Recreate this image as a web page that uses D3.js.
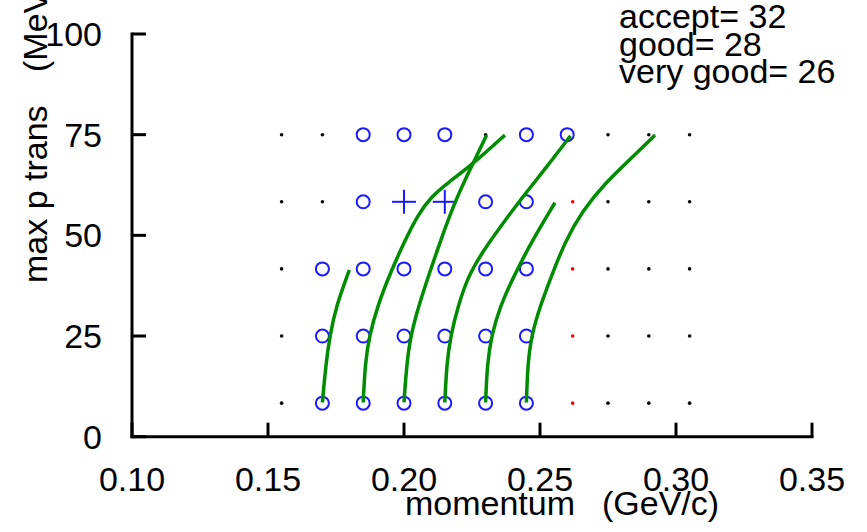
<!DOCTYPE html>
<html><head><meta charset="utf-8">
<script src="https://cdn.jsdelivr.net/npm/d3@7"></script>
<style>
html,body{margin:0;padding:0;background:#fff;}
svg{display:block;}
text{font-family:"Liberation Sans",Arial,sans-serif;fill:#000;}
</style></head>
<body>
<svg id="chart" width="867" height="532"></svg>
<script>
// ---- data ----
const xTicks = [0.10, 0.15, 0.20, 0.25, 0.30, 0.35];
const yTicks = [0, 25, 50, 75, 100];
const xTickLabels = ["0.10", "0.15", "0.20", "0.25", "0.30", "0.35"];
const yTickLabels = ["0", "25", "50", "75", "100"];

// grid markers [momentum, pt]
const blackDots = [
  [0.155, 8.33], [0.275, 8.33], [0.29, 8.33], [0.305, 8.33],
  [0.155, 25], [0.275, 25], [0.29, 25], [0.305, 25],
  [0.155, 41.67], [0.275, 41.67], [0.29, 41.67], [0.305, 41.67],
  [0.155, 58.33], [0.17, 58.33], [0.275, 58.33], [0.29, 58.33], [0.305, 58.33],
  [0.155, 75], [0.17, 75], [0.23, 75], [0.275, 75], [0.29, 75], [0.305, 75]
];
const redDots = [[0.262, 8.33], [0.262, 25], [0.262, 41.67], [0.262, 58.33]];
const circles = [
  [0.17, 8.33], [0.185, 8.33], [0.20, 8.33], [0.215, 8.33], [0.23, 8.33], [0.245, 8.33],
  [0.17, 25], [0.185, 25], [0.20, 25], [0.215, 25], [0.23, 25], [0.245, 25],
  [0.17, 41.67], [0.185, 41.67], [0.20, 41.67], [0.215, 41.67], [0.23, 41.67], [0.245, 41.67],
  [0.185, 58.33], [0.23, 58.33], [0.245, 58.33],
  [0.185, 75], [0.20, 75], [0.215, 75], [0.245, 75], [0.26, 75]
];
const plusses = [[0.20, 58.33], [0.215, 58.33]];

// green curves [momentum, pt]
const curve1 = [[0.170, 8.5], [0.1713, 18.2], [0.1728, 25.2], [0.1750, 32.3], [0.1799, 41.4]];
const curve2 = [[0.185, 8.5], [0.1857, 18.2], [0.1873, 25.2], [0.1902, 32.3], [0.1949, 40.6], [0.2004, 48.8], [0.2050, 55.0], [0.2100, 59.6], [0.2160, 63.0], [0.2250, 67.5], [0.2371, 74.9]];
const curve3 = [[0.200, 8.5], [0.201, 18.2], [0.2025, 25.2], [0.2053, 32.3], [0.2093, 40.5], [0.2135, 48.8], [0.2185, 58.0], [0.2240, 66.0], [0.2304, 74.9]];
const curve4 = [[0.215, 8.5], [0.2157, 18.2], [0.2172, 25.2], [0.2198, 32.3], [0.2235, 39.7], [0.2285, 45.5], [0.2345, 51.3], [0.2437, 59.6], [0.2525, 67.0], [0.2612, 74.7]];
const curve5 = [[0.230, 8.5], [0.2306, 18.2], [0.2322, 25.2], [0.2353, 32.3], [0.2402, 39.7], [0.2478, 49.5], [0.2555, 58.1]];
const curve6 = [[0.245, 8.5], [0.2455, 18.2], [0.2469, 25.2], [0.2500, 32.3], [0.2540, 39.5], [0.2592, 48.5], [0.2655, 56.0], [0.2740, 63.0], [0.2830, 68.8], [0.2923, 74.9]];
const curves = [curve1, curve2, curve3, curve4, curve5, curve6];

const infoLines = ["accept= 32", "good= 28", "very good= 26"];
const xTitleParts = ["momentum", "(GeV/c)"];
const yTitleParts = ["max p trans", "(MeV/c)"];

// ---- drawing ----
const svg = d3.select("#chart");
const x = d3.scaleLinear().domain([0.10, 0.35]).range([132, 812]);
const y = d3.scaleLinear().domain([0, 100]).range([436.7, 34]);

const axisStroke = 3;
const fs = 34;
const blue = "#1a1aff";

// axes lines
svg.append("line").attr("x1", x(0.10)).attr("x2", x(0.35)).attr("y1", y(0)).attr("y2", y(0))
  .attr("stroke", "#000").attr("stroke-width", axisStroke).attr("stroke-linecap", "square");
svg.append("line").attr("x1", x(0.10)).attr("x2", x(0.10)).attr("y1", y(0)).attr("y2", y(100))
  .attr("stroke", "#000").attr("stroke-width", axisStroke).attr("stroke-linecap", "square");

// x ticks (inward)
svg.selectAll(".xt").data(xTicks).enter().append("line")
  .attr("x1", d => x(d)).attr("x2", d => x(d))
  .attr("y1", y(0)).attr("y2", y(0) - 14)
  .attr("stroke", "#000").attr("stroke-width", axisStroke);
svg.selectAll(".xl").data(xTicks).enter().append("text")
  .attr("x", d => x(d)).attr("y", 491)
  .attr("text-anchor", "middle").attr("font-size", fs)
  .text((d, i) => xTickLabels[i]);

// y ticks (inward)
svg.selectAll(".yt").data(yTicks).enter().append("line")
  .attr("x1", x(0.10)).attr("x2", x(0.10) + 14)
  .attr("y1", d => y(d)).attr("y2", d => y(d))
  .attr("stroke", "#000").attr("stroke-width", axisStroke);
svg.selectAll(".yl").data(yTicks).enter().append("text")
  .attr("x", 102).attr("y", d => y(d) + 12)
  .attr("text-anchor", "end").attr("font-size", fs)
  .text((d, i) => yTickLabels[i]);

// titles
svg.append("text").attr("x", 405).attr("y", 515).attr("font-size", fs).text(xTitleParts[0]);
svg.append("text").attr("x", 602).attr("y", 515).attr("font-size", fs).text(xTitleParts[1]);
svg.append("text").attr("transform", "translate(47,283) rotate(-90)")
  .attr("font-size", fs).text(yTitleParts[0]);
svg.append("text").attr("transform", "translate(47,72) rotate(-90)")
  .attr("font-size", fs).text(yTitleParts[1]);

// info text
svg.selectAll(".info").data(infoLines).enter().append("text")
  .attr("x", 619).attr("y", (d, i) => 28 + i * 27.5)
  .attr("font-size", fs).text(d => d);

// black dots
svg.selectAll(".bd").data(blackDots).enter().append("circle")
  .attr("cx", d => x(d[0])).attr("cy", d => y(d[1])).attr("r", 1.8).attr("fill", "#000");
// red dots
svg.selectAll(".rd").data(redDots).enter().append("circle")
  .attr("cx", d => x(d[0])).attr("cy", d => y(d[1])).attr("r", 1.8).attr("fill", "#ff0000");

// circles
svg.selectAll(".ci").data(circles).enter().append("circle")
  .attr("cx", d => x(d[0])).attr("cy", d => y(d[1])).attr("r", 6.5)
  .attr("fill", "none").attr("stroke", blue).attr("stroke-width", 2);

// plusses
const pg = svg.selectAll(".pl").data(plusses).enter().append("g")
  .attr("transform", d => `translate(${x(d[0])},${y(d[1])})`);
pg.append("line").attr("x1", -12).attr("x2", 12).attr("y1", 0).attr("y2", 0)
  .attr("stroke", blue).attr("stroke-width", 2);
pg.append("line").attr("x1", 0).attr("x2", 0).attr("y1", -12).attr("y2", 12)
  .attr("stroke", blue).attr("stroke-width", 2);

// curves
const line = d3.line().x(d => x(d[0])).y(d => y(d[1])).curve(d3.curveBasis);
svg.selectAll(".cv").data(curves).enter().append("path")
  .attr("d", line).attr("fill", "none").attr("stroke", "#008c00").attr("stroke-width", 3.5)
  .attr("stroke-linecap", "butt");
</script>
</body></html>
